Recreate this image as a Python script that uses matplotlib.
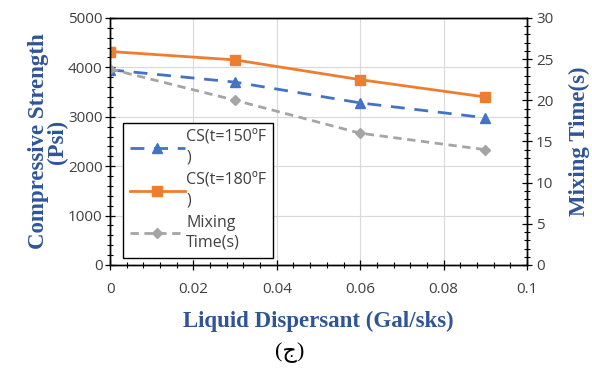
import numpy as np
import matplotlib.pyplot as plt
from matplotlib.ticker import MultipleLocator

# data
dispersant = [0, 0.03, 0.06, 0.09]
cs_150 = [3950, 3700, 3280, 2980]
cs_180 = [4320, 4150, 3750, 3400]
mixing_time = [23.8, 20.0, 16.0, 14.0]

blue = '#4472C4'
orange = '#ED7D31'
grey = '#A5A5A5'
label_blue = '#2F5597'
tick_font = 'Open Sans'

fig = plt.figure(figsize=(5.92, 3.81), dpi=100)
ax = fig.add_axes([0.186, 0.3045, 0.704, 0.6485])
ax2 = ax.twinx()

# gridlines
ax.set_axisbelow(True)
ax.grid(True, color='#D9D9D9', linewidth=0.8)

l1, = ax.plot(dispersant, cs_150, color=blue, linestyle=(0, (5, 3.5)), linewidth=2,
              marker='^', markersize=7, label='CS(t=150ºF\n)')
l2, = ax.plot(dispersant, cs_180, color=orange, linewidth=2,
              marker='s', markersize=7, label='CS(t=180ºF\n)')
l3, = ax2.plot(dispersant, mixing_time, color=grey, linestyle=(0, (3, 2)), linewidth=2,
               marker='D', markersize=5, label='Mixing\nTime(s)')

ax.set_xlim(0, 0.1)
ax.set_ylim(0, 5000)
ax2.set_ylim(0, 30)
ax.xaxis.set_major_locator(MultipleLocator(0.02))
ax.xaxis.set_minor_locator(MultipleLocator(0.004))
ax.yaxis.set_major_locator(MultipleLocator(1000))
ax.yaxis.set_minor_locator(MultipleLocator(200))
ax2.yaxis.set_major_locator(MultipleLocator(5))
ax2.yaxis.set_minor_locator(MultipleLocator(1))
ax.set_xticks([0, 0.02, 0.04, 0.06, 0.08, 0.1])
ax.set_xticklabels(['0', '0.02', '0.04', '0.06', '0.08', '0.1'])

for a in (ax, ax2):
    a.tick_params(which='major', direction='inout', length=7, width=0.9,
                  labelsize=11, colors='black', labelcolor='#404040')
    a.tick_params(which='minor', direction='inout', length=4, width=0.8)
    for lab in a.get_xticklabels() + a.get_yticklabels():
        lab.set_fontfamily(tick_font)
    for s in a.spines.values():
        s.set_color('black')
        s.set_linewidth(1)
ax.tick_params(axis='x', pad=9)
ax.tick_params(axis='y', pad=2)
ax2.tick_params(axis='y', pad=3)

ax.set_xlabel('Liquid Dispersant (Gal/sks)', fontsize=16.5, fontweight='bold',
              family='Liberation Serif', color=label_blue, labelpad=10)
ax.set_ylabel('Compressive Strength\n(Psi)', fontsize=16.5, fontweight='bold',
              family='Liberation Serif', color=label_blue, labelpad=0, linespacing=0.85)
ax2.set_ylabel('Mixing Time(s)', fontsize=16.5, fontweight='bold',
               family='Liberation Serif', color=label_blue, labelpad=11)

leg = ax.legend(handles=[l1, l2, l3], loc='lower left', bbox_to_anchor=(0.031, 0.028),
                prop={'family': tick_font, 'size': 11.5}, frameon=True, fancybox=False,
                handlelength=3.4, handletextpad=0.1, borderpad=0.45, labelspacing=0.45,
                borderaxespad=0)
leg.get_frame().set_edgecolor('black')
leg.get_frame().set_linewidth(1)
leg.get_frame().set_alpha(1)
for t in leg.get_texts():
    t.set_color('#404040')
    t.set_linespacing(1.3)

fig.text(0.49, 0.075, '(ج)', ha='center', va='center', fontsize=16,
         family=['Liberation Serif', 'DejaVu Sans'])

fig.savefig('out.png', dpi=100)
